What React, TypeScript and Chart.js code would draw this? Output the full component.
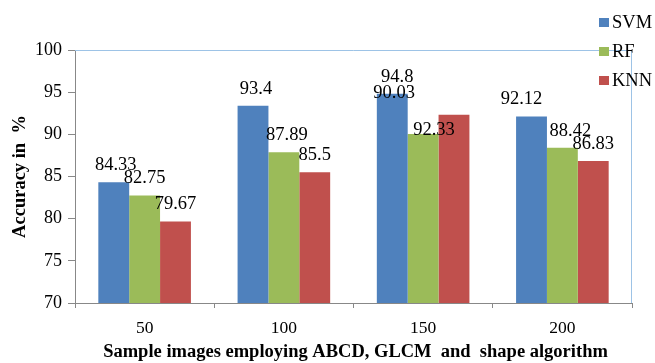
import React, { useEffect, useRef } from "react";
import { Chart, registerables } from "chart.js";

Chart.register(...registerables);

const categories = ["50", "100", "150", "200"];
const seriesNames = ["SVM", "RF", "KNN"];
const svmValues = [84.33, 93.4, 94.8, 92.12];
const rfValues = [82.75, 87.89, 90.03, 88.42];
const knnValues = [79.67, 85.5, 92.33, 86.83];
const yMin = 70;
const yMax = 100;
const yStep = 5;
const yTitle = "Accuracy in  %";
const xTitle = "Sample images employing ABCD, GLCM  and  shape algorithm";

const colors = ["#4F81BD", "#9BBB59", "#C0504D"];
const FONT = "'Liberation Serif', 'Times New Roman', serif";

// Data-label placement tweaks (px), reproducing the original figure's label layout
const labelShift: Record<string, [number, number]> = {
  "0-0": [2, 0],
  "0-1": [3, 0],
  "0-2": [5, 0],
  "0-3": [-10, 0],
  "1-1": [3, 0],
  "1-2": [-29, -24],
  "1-3": [8, 0],
  "2-2": [-20, 32],
};

const overlayPlugin = {
  id: "overlay",
  afterDatasetsDraw(chart: any) {
    const ctx = chart.ctx;
    ctx.save();
    ctx.font = `18.5px ${FONT}`;
    ctx.fillStyle = "#000";
    ctx.textAlign = "center";
    ctx.textBaseline = "alphabetic";
    chart.data.datasets.forEach((ds: any, di: number) => {
      const meta = chart.getDatasetMeta(di);
      meta.data.forEach((el: any, i: number) => {
        const s = labelShift[`${di}-${i}`] || [0, 0];
        ctx.fillText(String(ds.data[i]), el.x + s[0], el.y - 12 + s[1]);
      });
    });
    ctx.restore();
  },
  afterDraw(chart: any) {
    const ctx = chart.ctx;
    const a = chart.chartArea;
    ctx.save();
    // top/right frame
    ctx.strokeStyle = "#9DC3E6";
    ctx.lineWidth = 1;
    ctx.beginPath();
    ctx.moveTo(a.left, a.top + 0.5);
    ctx.lineTo(a.right - 0.5, a.top + 0.5);
    ctx.lineTo(a.right - 0.5, a.bottom);
    ctx.stroke();

    // legend
    ctx.font = `18.5px ${FONT}`;
    ctx.textAlign = "left";
    ctx.textBaseline = "alphabetic";
    chart.data.datasets.forEach((ds: any, i: number) => {
      const y = 18 + i * 29;
      ctx.fillStyle = ds.backgroundColor;
      ctx.fillRect(599, y, 10, 9);
      ctx.fillStyle = "#000";
      ctx.fillText(ds.label, 612, y + 10);
    });

    // axis titles
    ctx.font = `bold 18.5px ${FONT}`;
    ctx.textAlign = "center";
    ctx.fillStyle = "#000";
    ctx.fillText(xTitle, (a.left + a.right) / 2 + 2, 357);
    ctx.translate(25, (a.top + a.bottom) / 2);
    ctx.rotate(-Math.PI / 2);
    ctx.fillText(yTitle, 0, 0);
    ctx.restore();
  },
};

export default function App() {
  const ref = useRef<HTMLCanvasElement>(null);
  useEffect(() => {
    if (!ref.current) return;
    const series = [svmValues, rfValues, knnValues];
    const chart = new Chart(ref.current, {
      type: "bar",
      data: {
        labels: categories,
        datasets: series.map((d, i) => ({
          label: seriesNames[i],
          data: d,
          backgroundColor: colors[i],
          borderWidth: 0,
          barPercentage: 1,
          categoryPercentage: 0.665,
        })),
      },
      options: {
        responsive: false,
        animation: false,
        devicePixelRatio: 1,
        layout: { padding: { top: 50, right: 23, left: 0, bottom: 0 } },
        plugins: { legend: { display: false }, tooltip: { enabled: false } },
        scales: {
          x: {
            grid: { drawOnChartArea: false, drawTicks: true, tickLength: 5, color: "#888" },
            border: { color: "#888" },
            ticks: { color: "#000", font: { family: FONT, size: 17.5 }, padding: 10 },
            afterFit: (s: any) => { s.height = 60; },
          },
          y: {
            min: yMin,
            max: yMax,
            grid: { drawOnChartArea: false, drawTicks: true, tickLength: 7, color: "#888" },
            border: { color: "#888" },
            ticks: { stepSize: yStep, color: "#000", font: { family: FONT, size: 18 }, padding: 6 },
            afterFit: (s: any) => { s.width = 75; },
          },
        },
      },
      plugins: [overlayPlugin],
    });
    return () => chart.destroy();
  }, []);
  return (
    <div style={{ position: "absolute", left: 0, top: 0, width: 655, height: 363 }}>
      <canvas ref={ref} width={655} height={363} />
    </div>
  );
}
